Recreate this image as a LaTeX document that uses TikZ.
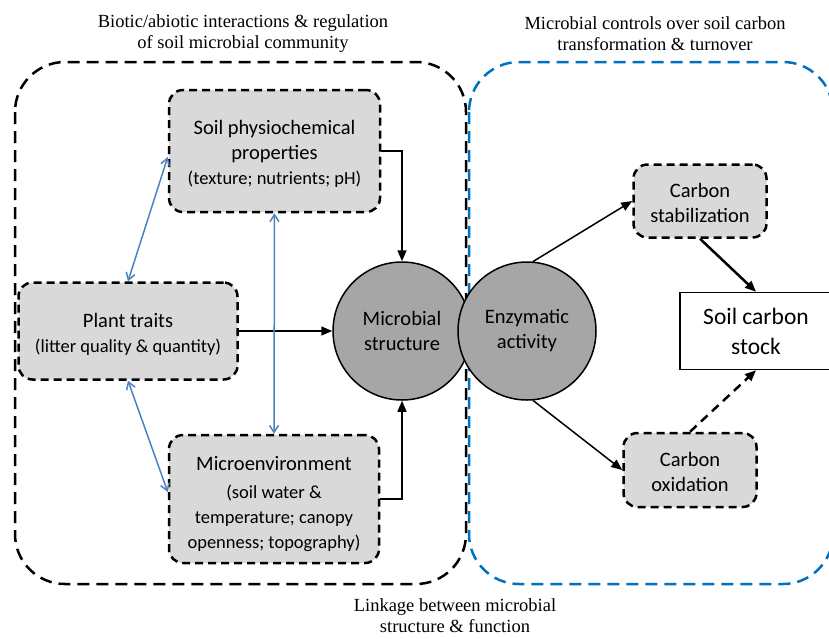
\documentclass[tikz,border=0pt]{standalone}
\usepackage{fontspec}
\setmainfont{Liberation Serif}
\newfontfamily\boxfont{Carlito}
\usetikzlibrary{arrows.meta}
\definecolor{boxgray}{RGB}{217,217,217}
\definecolor{circgray}{RGB}{166,166,166}
\definecolor{frameblue}{RGB}{0,112,192}
\definecolor{linkblue}{RGB}{79,129,189}
\tikzset{
  region/.style={line width=2.5pt, dash pattern=on 12pt off 7pt, rounded corners=50pt},
  factor/.style={draw, fill=boxgray, line width=2.5pt, dash pattern=on 8pt off 5pt,
    rounded corners=14pt, align=center, inner sep=0pt,
    font=\boxfont\fontsize{20.5}{25}\selectfont},
  hub/.style={circle, draw, fill=circgray, line width=1.5pt, minimum size=138pt,
    inner sep=0pt, align=center, font=\boxfont\fontsize{20.5}{25}\selectfont},
  flow/.style={-{Triangle[length=11pt,width=9pt]}, line width=1.5pt},
  link/.style={{Straight Barb[length=7pt,width=9pt]}-{Straight Barb[length=7pt,width=9pt]},
    draw=linkblue, line width=1.5pt},
  title/.style={align=center, font=\fontsize{18.5}{21}\selectfont},
}
\newcommand{\paren}{\fontsize{18.5}{25}\selectfont}
\newcommand{\lift}[1]{\rule{0pt}{#1}}
\begin{document}
\begin{tikzpicture}[x=1pt,y=-1pt]
\clip (0,0) rectangle (829,638);
% regions
\draw[region] (15,62) rectangle (466,584);
\draw[region, draw=frameblue] (469,62) rectangle (833,584);
% titles
\node[title] (t1) at (243,34) {Biotic/abiotic interactions \& regulation\\of soil microbial community};
\node[title] (t2) at (655,34) {Microbial controls over soil carbon\\transformation \& turnover};
\node[title] (t3) at (455,616) {Linkage between microbial\\structure \& function};
% factor boxes
\node[factor, minimum width=211pt, minimum height=122pt] (soil) at (274.5,151)
  {\lift{20pt}Soil physiochemical\\properties\\{\paren (texture; nutrients; pH)}};
\node[factor, minimum width=219pt, minimum height=97pt] (plant) at (128,331)
  {\lift{20pt}Plant traits\\{\paren (litter quality \& quantity)}};
\node[factor, minimum width=210pt, minimum height=128pt] (env) at (274,499)
  {\lift{25pt}Microenvironment\\[3pt]{\paren (soil water \&}\\{\paren temperature; canopy}\\{\paren openness; topography)}};
% hubs
\node[hub] (micro) at (402,331) {Microbial\\structure};
\node[hub] (enz) at (527,331) {Enzymatic\\activity};
% carbon boxes
\node[factor, minimum width=133pt, minimum height=73pt] (stab) at (700,201) {\lift{19pt}Carbon\\stabilization};
\node[factor, minimum width=133pt, minimum height=74pt] (ox) at (690,470) {\lift{18pt}Carbon\\oxidation};
\node[draw, fill=white, line width=1.5pt, minimum width=152pt, minimum height=77pt,
  inner sep=0pt, align=center, font=\boxfont\fontsize{23.5}{30}\selectfont] (stock) at (756,331)
  {Soil carbon\\stock};
% connectors
\draw[flow] (soil.east) -| (micro.north);
\draw[flow] (plant.east) -- (micro.west);
\draw[flow] (env.east) -| (micro.south);
\draw[link] (plant.north) -- ([yshift=-6pt]soil.west);
\draw[link] (plant.south) -- ([yshift=7pt]env.west);
\draw[link] (soil.south) -- (env.north);
\draw[flow] (enz.85) -- (stab.west);
\draw[flow] (enz.-85) -- (ox.west);
\draw[flow, line width=2.5pt] (stab.south) -- (stock.north);
\draw[flow, line width=2.5pt, dash pattern=on 9pt off 6pt] (ox.north) -- (stock.south);
\end{tikzpicture}
\end{document}
